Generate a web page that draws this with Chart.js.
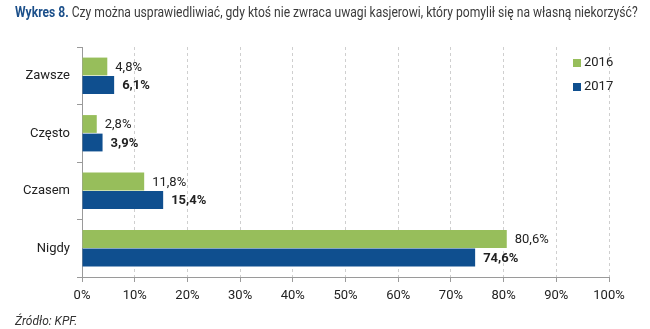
<!DOCTYPE html>
<html>
<head>
<meta charset="utf-8">
<script src="https://cdn.jsdelivr.net/npm/chart.js@4"></script>
<style>
  html, body { margin: 0; padding: 0; background: #fff; }
  #wrap { position: relative; width: 650px; height: 329px; overflow: hidden; }
  #chart { position: absolute; left: 0; top: 0; }
  #title { position: absolute; left: 15px; top: 4px; white-space: nowrap; transform-origin: 0 0;
    font-family: 'Liberation Sans Narrow', 'Roboto', sans-serif; font-size: 14px; color: #3a3a3a; }
  #title b { color: #1b4f8a; }
  #source { position: absolute; left: 15px; top: 314px; font-family: 'Liberation Sans Narrow', 'Roboto', sans-serif;
    font-style: italic; font-size: 12px; color: #333; }
</style>
</head>
<body>
<div id="wrap">
  <canvas id="chart" width="650" height="329"></canvas>
  <div id="title"><b>Wykres 8.</b> Czy można usprawiedliwiać, gdy ktoś nie zwraca uwagi kasjerowi, który pomylił się na własną niekorzyść?</div>
  <div id="source">Źródło: KPF.</div>
</div>
<script>
var categories = ["Zawsze", "Często", "Czasem", "Nigdy"];
var values2016 = [4.8, 2.8, 11.8, 80.6];
var values2017 = [6.1, 3.9, 15.4, 74.6];
var seriesLabels = ["2016", "2017"];
var xTicks = [0, 10, 20, 30, 40, 50, 60, 70, 80, 90, 100];

var FONT = "'Liberation Sans Narrow', 'Roboto', sans-serif";
var GREEN = "#97be5b";
var BLUE = "#0f4f8f";

// stretch title to the reference width
var title = document.getElementById("title");
title.style.transform = "scaleX(" + (623 / title.offsetWidth) + ")";

function pct(v) { return v.toFixed(1).replace(".", ",") + "%"; }

var barLabels = {
  id: "barLabels",
  afterDatasetsDraw: function (chart) {
    var ctx = chart.ctx;
    ctx.save();
    ctx.textBaseline = "middle";
    ctx.textAlign = "left";
    ctx.fillStyle = "#222";
    chart.data.datasets.forEach(function (ds, i) {
      ctx.font = (i === 1 ? "bold " : "") + "13px " + FONT;
      chart.getDatasetMeta(i).data.forEach(function (bar, j) {
        ctx.fillText(pct(ds.data[j]), bar.x + 8, bar.y + 1);
      });
    });
    ctx.restore();
  }
};

var sideLegend = {
  id: "sideLegend",
  afterDraw: function (chart) {
    var ctx = chart.ctx;
    ctx.save();
    ctx.font = "13px " + FONT;
    ctx.textBaseline = "middle";
    chart.data.datasets.forEach(function (ds, i) {
      var y = 63 + i * 24;
      ctx.fillStyle = ds.backgroundColor;
      ctx.fillRect(573, y - 4, 8, 8);
      ctx.fillStyle = "#222";
      ctx.fillText(ds.label, 584, y);
    });
    ctx.restore();
  }
};

new Chart(document.getElementById("chart"), {
  type: "bar",
  data: {
    labels: categories,
    datasets: [
      { label: seriesLabels[0], data: values2016, backgroundColor: GREEN, categoryPercentage: 0.645, barPercentage: 0.96 },
      { label: seriesLabels[1], data: values2017, backgroundColor: BLUE, categoryPercentage: 0.645, barPercentage: 0.96 }
    ]
  },
  options: {
    indexAxis: "y",
    responsive: false,
    animation: false,
    layout: { padding: { top: 47, right: 41, bottom: 22, left: 0 } },
    plugins: { legend: { display: false }, tooltip: { enabled: false } },
    scales: {
      x: {
        min: 0, max: 100,
        afterBuildTicks: function (s) { s.ticks = xTicks.map(function (v) { return { value: v }; }); },
        afterFit: function (s) { s.height = 30; },
        grid: { color: "#cfcfcf", tickColor: "#9a9a9a", tickLength: 5, tickBorderDash: [] },
        border: { color: "#9a9a9a", width: 1, dash: [3, 3] },
        ticks: { color: "#222", padding: 6, font: { family: FONT, size: 13 }, callback: function (v) { return v + "%"; } }
      },
      y: {
        afterFit: function (s) { s.width = 82; },
        grid: { offset: true, drawOnChartArea: false, tickColor: "#9a9a9a", tickLength: 5 },
        border: { color: "#9a9a9a", width: 1 },
        ticks: { color: "#222", padding: 7, font: { family: FONT, size: 13 } }
      }
    }
  },
  plugins: [barLabels, sideLegend]
});
</script>
</body>
</html>
